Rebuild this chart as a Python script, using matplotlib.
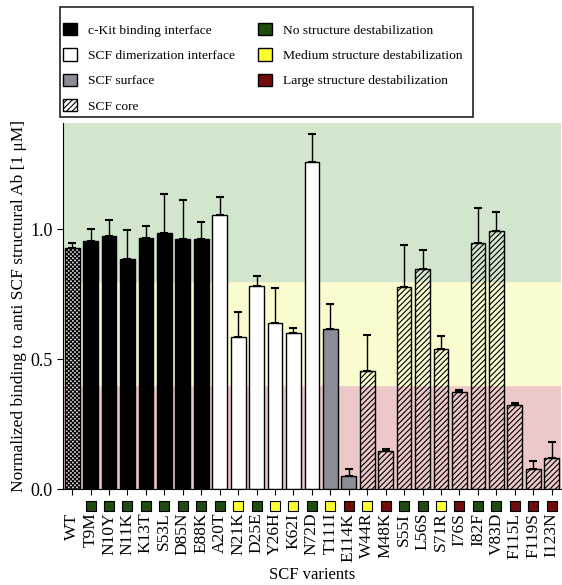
import matplotlib
matplotlib.use("Agg")
import matplotlib.pyplot as plt
import matplotlib.transforms as mtransforms
from matplotlib.patches import Patch, Rectangle
import numpy as np

plt.rcParams['font.family'] = ['Liberation Serif', 'DejaVu Serif']
plt.rcParams['hatch.linewidth'] = 0.8

# SCF variants, binding signal and upper error
variants = ['WT', 'T9M', 'N10Y', 'N11K', 'K13T', 'S53L', 'D85N', 'E88K',
            'A20T', 'N21K', 'D25E', 'Y26H', 'K62I', 'N72D',
            'T111I', 'E114K',
            'W44R', 'M48K', 'S55I', 'L56S', 'S71R', 'I76S', 'I82F', 'V83D',
            'F115L', 'F119S', 'I123N']
binding = [0.93, 0.955, 0.973, 0.886, 0.967, 0.985, 0.964, 0.963,
           1.056, 0.585, 0.781, 0.638, 0.601, 1.258,
           0.615, 0.049,
           0.456, 0.147, 0.779, 0.846, 0.538, 0.373, 0.947, 0.994,
           0.322, 0.076, 0.119]
err_up = [0.017, 0.048, 0.064, 0.111, 0.045, 0.152, 0.148, 0.065,
          0.067, 0.095, 0.040, 0.136, 0.018, 0.109,
          0.096, 0.027,
          0.138, 0.006, 0.161, 0.075, 0.050, 0.009, 0.134, 0.071,
          0.011, 0.033, 0.064]
# region of SCF each variant sits in
region = ['wt'] + ['kit'] * 7 + ['dimer'] * 6 + ['surface'] * 2 + ['core'] * 11
# structural destabilization class (None for WT)
stability = [None, 'no', 'no', 'no', 'no', 'no', 'no', 'no',
             'no', 'med', 'no', 'med', 'med', 'no',
             'med', 'large',
             'med', 'large', 'no', 'no', 'med', 'large', 'no', 'no',
             'large', 'large', 'large']

region_style = {
    'wt': dict(color='#d8d8d8', hatch='xxxxxxxx'),
    'kit': dict(color='black', hatch=None),
    'dimer': dict(color='white', hatch=None),
    'surface': dict(color='#8c8c96', hatch=None),
    'core': dict(color='none', hatch='//////'),
}
stab_color = {'no': '#1f4a10', 'med': '#ffff30', 'large': '#700c0c'}

fig = plt.figure(figsize=(5.62, 5.85), dpi=100)
ax = fig.add_axes([0.112, 0.164, 0.886, 0.626])

# coloured stability bands
ax.axhspan(0.0, 0.4, color='#ecc8c8', zorder=0)
ax.axhspan(0.4, 0.8, color='#fbfbd0', zorder=0)
ax.axhspan(0.8, 1.5, color='#d2e6cd', zorder=0)

x = np.arange(len(variants))
for xi, v, e, r in zip(x, binding, err_up, region):
    st = region_style[r]
    ax.bar(xi, v, width=0.8, color=st['color'], edgecolor='black',
           hatch=st['hatch'], linewidth=1.0, zorder=2)
    ax.errorbar(xi, v, yerr=[[0], [e]], fmt='none', ecolor='black',
                elinewidth=1.0, capsize=3, capthick=1.5, zorder=3)

# stability squares under the axis
trans = mtransforms.blended_transform_factory(ax.transData, ax.transAxes)
for xi, s in zip(x, stability):
    if s is None:
        continue
    ax.scatter(xi, -0.046, marker='s', s=42, color=stab_color[s],
               edgecolor='black', linewidth=0.8, transform=trans,
               clip_on=False, zorder=4)

ax.set_xlim(-0.5, len(variants) - 0.5)
ax.set_ylim(0, 1.41)
ax.set_yticks([0.0, 0.5, 1.0])
ax.set_yticklabels(['0.0', '0.5', '1.0'], fontsize=13)
ax.set_xticks(x)
ax.set_xticklabels(variants, rotation=90, fontsize=12.5, va='top')
ax.tick_params(axis='x', length=4, pad=13)
ax.tick_params(axis='y', length=4)
ax.spines['top'].set_visible(False)
ax.spines['right'].set_visible(False)
ax.set_xlabel('SCF varients', fontsize=12, labelpad=4)
ax.set_ylabel('Normalized binding to anti SCF structural Ab [1 \u03bcM]',
              fontsize=12.5, labelpad=2)

handles = [
    Patch(facecolor='black', edgecolor='black', label='c-Kit binding interface'),
    Patch(facecolor='white', edgecolor='black', label='SCF dimerization interface'),
    Patch(facecolor='#8c8c96', edgecolor='black', label='SCF surface'),
    Patch(facecolor='white', edgecolor='black', hatch='//////', label='SCF core'),
    Patch(facecolor=stab_color['no'], edgecolor='black', label='No structure destabilization'),
    Patch(facecolor=stab_color['med'], edgecolor='black', label='Medium structure destabilization'),
    Patch(facecolor=stab_color['large'], edgecolor='black', label='Large structure destabilization'),
]
fig.legend(handles=handles, ncol=2, loc='upper left',
           bbox_to_anchor=(63 / 562, 1 - 23 / 585), fontsize=9.7,
           frameon=False, borderpad=0, borderaxespad=0,
           handlelength=1.05, handleheight=1.05, handletextpad=0.8,
           columnspacing=1.7, labelspacing=0.85)
# legend frame
fig.add_artist(Rectangle((60 / 562, 1 - 117 / 585), 413 / 562, 110 / 585,
                         transform=fig.transFigure, fill=False,
                         edgecolor='#222222', linewidth=1.2))

fig.savefig('out.png', dpi=100)
